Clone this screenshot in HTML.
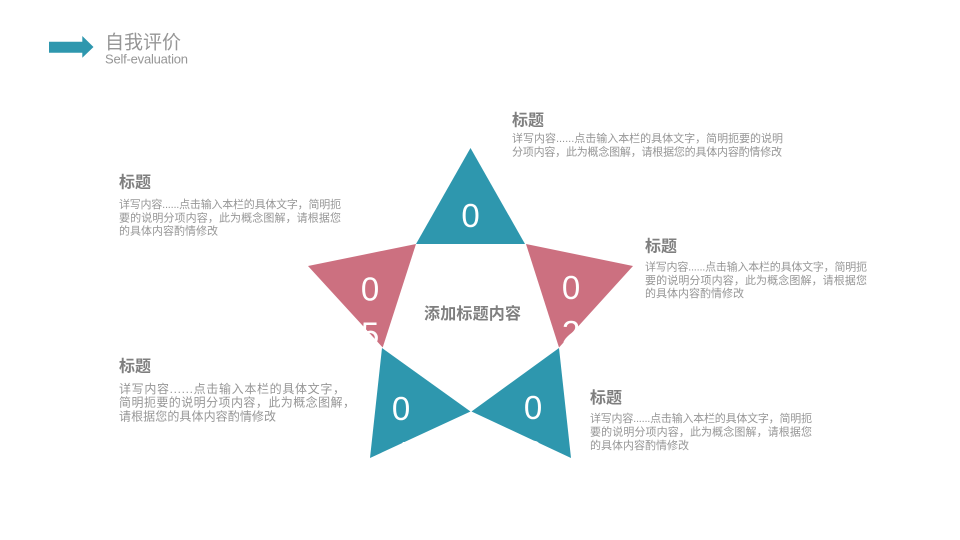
<!DOCTYPE html>
<html lang="zh">
<head>
<meta charset="utf-8">
<title>自我评价</title>
<style>
html,body{margin:0;padding:0;background:#fff;}
svg{display:block;}
text{font-family:"Liberation Sans","Noto Sans CJK SC",sans-serif;}
.t{font-size:16px;font-weight:700;fill:#7f7f7f;}
.d{font-size:11px;fill:#969696;}
.e{font-size:12px;fill:#969696;}
.n{font-size:33px;fill:#fff;text-anchor:middle;}
</style>
</head>
<body>
<svg width="960" height="540" viewBox="0 0 960 540" xmlns="http://www.w3.org/2000/svg">
<rect width="960" height="540" fill="#fff"/>
<polygon points="49,41.7 82.3,41.7 82.3,36 93.5,47 82.3,57.7 82.3,52.7 49,52.7" fill="#2e97ae"/>
<text x="105" y="48.500" font-size="19px" fill="#969696" textLength="76" lengthAdjust="spacing">自我评价</text>
<text x="105" y="63.500" font-size="13px" fill="#969696" textLength="83" lengthAdjust="spacing">Self-evaluation</text>

<polygon points="470.5,148 525,244 416,244" fill="#2e97ae"/>
<polygon points="526,244 633,266 559,347.5" fill="#cc7080"/>
<polygon points="416,244 308,266 382.7,347.5" fill="#cc7080"/>
<polygon points="382,348 470.5,411.5 370,458" fill="#2e97ae"/>
<polygon points="559,348 471.5,411.5 571,458" fill="#2e97ae"/>

<text class="n" x="470.5" y="227">0</text>
<text class="n" x="470.5" y="272">1</text>
<text class="n" x="571" y="299">0</text>
<text class="n" x="571" y="344">2</text>
<text class="n" x="370" y="300.500">0</text>
<text class="n" x="370" y="345.500">5</text>
<text class="n" x="533" y="419">0</text>
<text class="n" x="533" y="464">3</text>
<text class="n" x="401" y="420">0</text>
<text class="n" x="401" y="465">4</text>

<text x="424" y="319" font-size="16px" font-weight="700" fill="#7f7f7f" textLength="97" lengthAdjust="spacing">添加标题内容</text>

<text class="t" x="512" y="125.500">标题</text>
<text class="d" x="512" y="142" textLength="271" lengthAdjust="spacing">详写内容......点击输入本栏的具体文字，简明扼要的说明</text>
<text class="d" x="512" y="155.500" textLength="270" lengthAdjust="spacing">分项内容，此为概念图解，请根据您的具体内容酌情修改</text>

<text class="t" x="119" y="187.500">标题</text>
<text class="d" x="119" y="208" textLength="222" lengthAdjust="spacing">详写内容......点击输入本栏的具体文字，简明扼</text>
<text class="d" x="119" y="221.500" textLength="222" lengthAdjust="spacing">要的说明分项内容，此为概念图解，请根据您</text>
<text class="d" x="119" y="234.500" textLength="99" lengthAdjust="spacing">的具体内容酌情修改</text>

<text class="t" x="645" y="251.500">标题</text>
<text class="d" x="645" y="270.500" textLength="222" lengthAdjust="spacing">详写内容......点击输入本栏的具体文字，简明扼</text>
<text class="d" x="645" y="284" textLength="222" lengthAdjust="spacing">要的说明分项内容，此为概念图解，请根据您</text>
<text class="d" x="645" y="297" textLength="99" lengthAdjust="spacing">的具体内容酌情修改</text>

<text class="t" x="119" y="371.500">标题</text>
<text class="e" x="119" y="393" textLength="226" lengthAdjust="spacing">详写内容......点击输入本栏的具体文字，</text>
<text class="e" x="119" y="406.500" textLength="236" lengthAdjust="spacing">简明扼要的说明分项内容，此为概念图解，</text>
<text class="e" x="119" y="420.500" textLength="157" lengthAdjust="spacing">请根据您的具体内容酌情修改</text>

<text class="t" x="590" y="403">标题</text>
<text class="d" x="590" y="422" textLength="222" lengthAdjust="spacing">详写内容......点击输入本栏的具体文字，简明扼</text>
<text class="d" x="590" y="435.500" textLength="222" lengthAdjust="spacing">要的说明分项内容，此为概念图解，请根据您</text>
<text class="d" x="590" y="449" textLength="99" lengthAdjust="spacing">的具体内容酌情修改</text>
</svg>
</body>
</html>
